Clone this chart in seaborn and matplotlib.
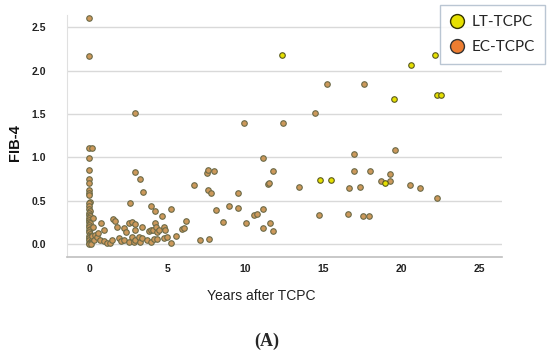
"""
FIB-4 vs years after TCPC, scatter by conduit type (panel A)
"""
import numpy as np
import pandas as pd
import matplotlib
matplotlib.use('Agg')
import matplotlib.pyplot as plt
from matplotlib.lines import Line2D
import seaborn as sns

# 1) Data
# EC-TCPC, the stack right at year 0
ec_col_x = [0, 0, 0, 0.15, 0, 0, 0, 0, 0, 0, 0, 0.05, 0, 0, 0, 0.05, 0, 0, 0.05, 0,
            0, 0, 0.05, 0, 0, 0.05, 0, 0, 0.05, 0, 0.1, 0, 0, 0.1, 0, 0.05, 0, 0.1,
            0.25, 0.25, 0.2, 0.3]
ec_col_y = [2.60, 2.17, 1.11, 1.11, 0.99, 0.86, 0.75, 0.71, 0.62, 0.59, 0.57, 0.49, 0.47,
            0.44, 0.41, 0.38, 0.36, 0.34, 0.32, 0.30, 0.28, 0.26, 0.24, 0.22, 0.20, 0.18,
            0.16, 0.14, 0.12, 0.10, 0.09, 0.07, 0.05, 0.04, 0.02, 0.01, 0.0, 0.0,
            0.30, 0.20, 0.10, 0.05]

# EC-TCPC, everything else
ec_x = [0.38, 0.49, 0.55, 0.69, 0.72, 0.92, 0.92, 1.13, 1.3, 1.46, 1.52, 1.65, 1.77, 1.88,
        2.05, 2.2, 2.22, 2.32, 2.52, 2.55, 2.62, 2.74, 2.74, 2.84, 2.9, 2.9, 2.9, 2.95,
        2.95, 3.16, 3.27, 3.27, 3.37, 3.37, 3.42, 3.72, 3.8, 3.93, 3.93, 3.97, 4.08, 4.12,
        4.2, 4.21, 4.3, 4.34, 4.34, 4.44, 4.64, 4.76, 4.8, 4.87, 4.95, 5.24, 5.26, 5.53,
        5.92, 6.08, 6.19, 6.69, 7.07, 7.65, 7.54, 7.58, 7.97, 7.6, 7.8, 8.12, 8.58, 8.97,
        9.5, 9.55, 9.92, 10.06, 10.53, 10.75, 11.1, 11.14, 11.14, 11.43, 11.5, 11.6, 11.77,
        11.77, 12.44, 13.45, 14.45, 14.7, 15.26, 16.6, 16.66, 16.94, 16.94, 17.37, 17.52,
        17.58, 17.95, 18.01, 18.68, 19.29, 19.29, 19.62, 20.53, 21.22, 22.28]
ec_y = [0.11, 0.08, 0.13, 0.05, 0.24, 0.165, 0.04, 0.02, 0.01, 0.05, 0.29, 0.27, 0.20, 0.07,
        0.04, 0.05, 0.185, 0.145, 0.24, 0.03, 0.47, 0.26, 0.085, 0.03, 0.16, 0.23, 1.51, 0.83,
        0.05, 0.08, 0.75, 0.03, 0.195, 0.07, 0.60, 0.05, 0.15, 0.44, 0.03, 0.165, 0.16, 0.06,
        0.24, 0.38, 0.20, 0.145, 0.06, 0.16, 0.32, 0.07, 0.20, 0.17, 0.08, 0.02, 0.41, 0.10,
        0.18, 0.19, 0.27, 0.68, 0.05, 0.06, 0.82, 0.85, 0.84, 0.62, 0.59, 0.40, 0.26, 0.44,
        0.59, 0.42, 1.40, 0.24, 0.34, 0.35, 0.99, 0.41, 0.19, 0.69, 0.71, 0.25, 0.84,
        0.15, 1.40, 0.66, 1.51, 0.34, 1.84, 0.35, 0.65, 1.04, 0.84, 0.66, 0.33,
        1.84, 0.33, 0.84, 0.73, 0.73, 0.81, 1.08, 0.68, 0.65, 0.53]

# LT-TCPC
lt_x = [12.35, 14.76, 15.52, 18.93, 19.53, 20.62, 22.13, 22.28, 22.54]
lt_y = [2.18, 0.74, 0.74, 0.71, 1.67, 2.07, 2.18, 1.72, 1.72]

x_ticks = [0, 5, 10, 15, 20, 25]
y_ticks = [0.0, 0.5, 1.0, 1.5, 2.0, 2.5]

df = pd.DataFrame({
    'years': ec_col_x + ec_x + lt_x,
    'fib4': ec_col_y + ec_y + lt_y,
    'group': ['EC-TCPC'] * (len(ec_col_x) + len(ec_x)) + ['LT-TCPC'] * len(lt_x),
})

# 2) Plot
sns.set_style("whitegrid")
plt.rcParams['font.family'] = ['Liberation Sans', 'DejaVu Sans']

fig = plt.figure(figsize=(5.5, 3.53), dpi=100)
ax = fig.add_axes([0.1213, 0.2728, 0.7914, 0.6847])

sns.scatterplot(data=df[df['group'] == 'EC-TCPC'], x='years', y='fib4', ax=ax,
                color='#cc985a', edgecolor='#6b6a48', linewidth=0.8, s=16,
                legend=False, zorder=3)
sns.scatterplot(data=df[df['group'] == 'LT-TCPC'], x='years', y='fib4', ax=ax,
                color='#e6e000', edgecolor='#5a5a20', linewidth=0.8, s=16,
                legend=False, zorder=4)

ax.set_xlim(-1.45, 26.45)
ax.set_ylim(-0.143, 2.64)
ax.set_xticks(x_ticks)
ax.set_yticks(y_ticks)
ax.set_xticklabels([str(t) for t in x_ticks])
ax.set_yticklabels([f'{t:.1f}' for t in y_ticks])
ax.set_xlabel('')
ax.set_ylabel('')
ax.grid(axis='x', visible=False)
ax.grid(axis='y', color='#d9d9d9', linewidth=1.0)
for side in ['top', 'right']:
    ax.spines[side].set_visible(False)
ax.spines['left'].set_color('#e0e0e0')
ax.spines['bottom'].set_color('#bfbfbf')
ax.spines['bottom'].set_linewidth(1.2)
ax.tick_params(axis='y', length=0, pad=15, labelsize=7.5, colors='#222222')
ax.tick_params(axis='x', length=0, pad=5, labelsize=7.5, colors='#222222')
for lbl in ax.get_xticklabels() + ax.get_yticklabels():
    lbl.set_fontweight('bold')

fig.text(15.3 / 550, 1 - 142.7 / 353, 'FIB-4', rotation=90, ha='center', va='center',
         fontsize=10.5, fontweight='bold', color='#111111')
fig.text(261.5 / 550, 1 - 295.6 / 353, 'Years after TCPC', ha='center', va='center',
         fontsize=10, color='#222222')
fig.text(266.8 / 550, 1 - 341 / 353, '(A)', ha='center', va='center', fontsize=13,
         fontweight='bold', family=['Liberation Serif', 'DejaVu Serif'])

handles = [
    Line2D([], [], marker='o', linestyle='', markersize=10, markerfacecolor='#e6e000',
           markeredgecolor='#333300', markeredgewidth=1.0, label='LT-TCPC'),
    Line2D([], [], marker='o', linestyle='', markersize=10, markerfacecolor='#ed7d31',
           markeredgecolor='#333333', markeredgewidth=1.0, label='EC-TCPC'),
]
leg = fig.legend(handles=handles, loc='upper right', bbox_to_anchor=(0.991, 0.986),
                 borderaxespad=0, frameon=True, fancybox=False, borderpad=0.65,
                 labelspacing=0.75, handletextpad=0.45, handlelength=1.0,
                 prop={'family': ['Lato', 'DejaVu Sans'], 'size': 11})
leg.get_frame().set_edgecolor('#a9b8c8')
leg.get_frame().set_linewidth(1.0)

plt.savefig('out.png', dpi=100)
